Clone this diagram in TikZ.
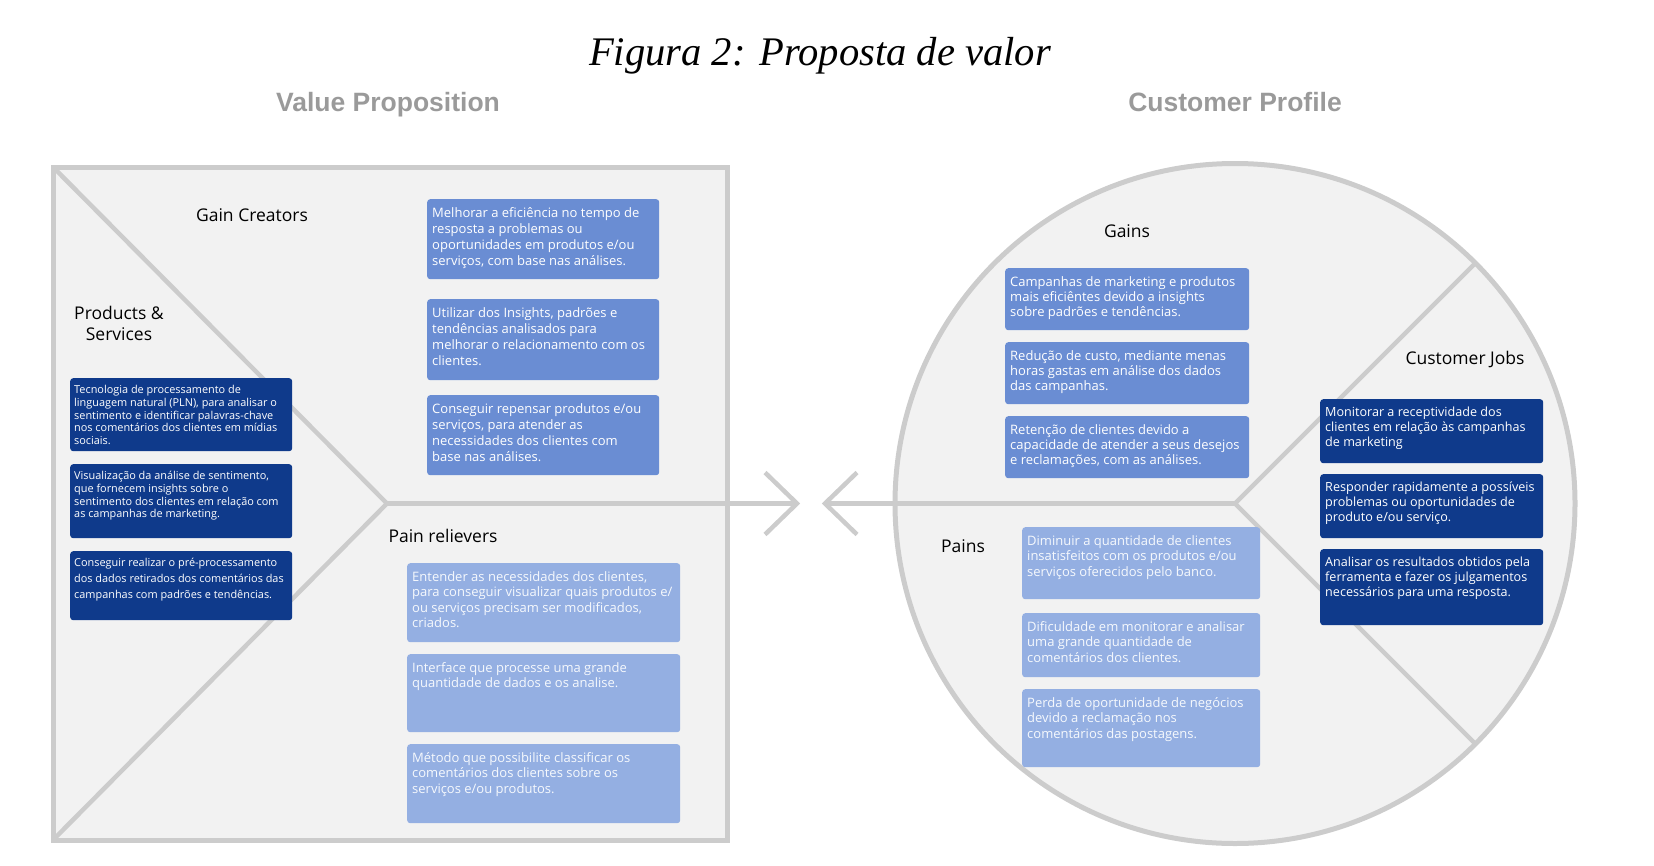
\documentclass[tikz,border=0pt]{standalone}
\usepackage{fontspec}
\setmainfont{Open Sans}
\newfontfamily\titlefont{Liberation Serif}
\newfontfamily\headfont{Liberation Sans}
\usepackage{tikz}
\definecolor{panelfill}{HTML}{F2F2F2}
\definecolor{panelline}{HTML}{CCCCCC}
\definecolor{navyblue}{HTML}{0F3A8B}
\definecolor{midblue}{HTML}{6A8DD3}
\definecolor{lightblue}{HTML}{94AFE2}
\definecolor{headgray}{HTML}{9A9A9A}
\newcommand{\cardtext}[3]{\parbox[t][#2][t]{#1}{\raggedright\rule{0pt}{1.1em}#3}}
\tikzset{
    panel/.style = {
        draw=panelline,
        fill=panelfill,
        line width=5pt,
        inner sep=0pt,
        outer sep=0pt
    },
    divider/.style = {
        draw=panelline,
        line width=4.5pt
    },
    card/.style = {
        anchor=north west,
        rectangle,
        rounded corners=3pt,
        inner xsep=5pt,
        inner ysep=3.5pt,
        text=white
    },
    navycard/.style = {
        card,
        fill=navyblue,
        inner xsep=4pt,
        font=\fontsize{10.9}{12.7}\selectfont
    },
    midcard/.style = {
        card,
        fill=midblue,
        font=\fontsize{13}{16}\selectfont
    },
    lightcard/.style = {
        card,
        fill=lightblue,
        text=white!92!lightblue,
        font=\fontsize{13}{15.6}\selectfont
    },
    sectionlabel/.style = {
        anchor=base,
        inner sep=0pt,
        align=center,
        font=\fontsize{17.5}{21}\selectfont
    },
    header/.style = {
        anchor=base,
        inner sep=0pt,
        text=headgray,
        font=\headfont\bfseries\fontsize{26.5}{30}\selectfont
    },
    titletext/.style = {
        anchor=base,
        inner sep=0pt,
        font=\titlefont\itshape\fontsize{40.6}{48}\selectfont
    }
}

\begin{document}
\begin{tikzpicture}[x=1pt, y=-1pt]
    \useasboundingbox (0,0) rectangle (1654,865);

    \node [titletext] (title) at (820,65) {Figura 2: Proposta de valor};
    \node [header] (vphead) at (388,111) {Value Proposition};
    \node [header] (cphead) at (1235,111) {Customer Profile};

    % value proposition square
    \node [panel, minimum width=674pt, minimum height=673pt] (vp) at (390,503.5) {};
    \coordinate (vphub) at (387,503.5);
    \coordinate (vptip) at (797,503.5);
    \draw [divider] (vp.north west) -- (vphub) -- (vp.south west);
    \draw [divider] (vphub) -- (vptip);
    \draw [divider] ([shift={(-32,-31)}]vptip) -- (vptip) -- ([shift={(-32,31)}]vptip);

    % customer profile circle
    \node [panel, circle, minimum size=680pt] (cp) at (1235,503.5) {};
    \coordinate (cptip) at (825,503.5);
    \draw [divider] (cp.45) -- (cp.center) -- (cp.-45);
    \draw [divider] (cp.center) -- (cptip);
    \draw [divider] ([shift={(32,-31)}]cptip) -- (cptip) -- ([shift={(32,31)}]cptip);

    % section labels
    \node [sectionlabel] (gclabel) at (252,221) {Gain Creators};
    \node [sectionlabel, anchor=center] (pslabel) at (119,323) {Products \&\\Services};
    \node [sectionlabel] (prlabel) at (443,542) {Pain relievers};
    \node [sectionlabel] (gnlabel) at (1127,237) {Gains};
    \node [sectionlabel] (cjlabel) at (1465,364) {Customer Jobs};
    \node [sectionlabel] (pnlabel) at (963,552) {Pains};

    % products & services
    \node [navycard] (ps1) at (70,378) {\cardtext{214pt}{66pt}{Tecnologia de processamento de\\
        linguagem natural (PLN), para analisar o\\
        sentimento e identificar palavras-chave\\
        nos comentários dos clientes em mídias\\
        sociais.}};
    \node [navycard] (ps2) at (70,464) {\cardtext{214pt}{67pt}{Visualização da análise de sentimento,\\
        que fornecem insights sobre o\\
        sentimento dos clientes em relação com\\
        as campanhas de marketing.}};
    \node [navycard, font=\fontsize{10.9}{16}\selectfont] (ps3) at (70,551) {\cardtext{214pt}{62pt}{Conseguir realizar o pré-processamento\\
        dos dados retirados dos comentários das\\
        campanhas com padrões e tendências.}};

    % gain creators
    \node [midcard] (gc1) at (427,199) {\cardtext{222pt}{73pt}{Melhorar a eficiência no tempo de\\
        resposta a problemas ou\\
        oportunidades em produtos e/ou\\
        serviços, com base nas análises.}};
    \node [midcard] (gc2) at (427,299) {\cardtext{222pt}{74pt}{Utilizar dos Insights, padrões e\\
        tendências analisados para\\
        melhorar o relacionamento com os\\
        clientes.}};
    \node [midcard] (gc3) at (427,395) {\cardtext{222pt}{73pt}{Conseguir repensar produtos e/ou\\
        serviços, para atender as\\
        necessidades dos clientes com\\
        base nas análises.}};

    % pain relievers
    \node [lightcard] (pr1) at (407,563) {\cardtext{263pt}{72pt}{Entender as necessidades dos clientes,\\
        para conseguir visualizar quais produtos e/\\
        ou serviços precisam ser modificados,\\
        criados.}};
    \node [lightcard] (pr2) at (407,654) {\cardtext{263pt}{71pt}{Interface que processe uma grande\\
        quantidade de dados e os analise.}};
    \node [lightcard] (pr3) at (407,744) {\cardtext{263pt}{72pt}{Método que possibilite classificar os\\
        comentários dos clientes sobre os\\
        serviços e/ou produtos.}};

    % gains
    \node [midcard, font=\fontsize{13}{15}\selectfont] (gn1) at (1005,268) {\cardtext{234pt}{55pt}{Campanhas de marketing e produtos\\
        mais eficiêntes devido a insights\\
        sobre padrões e tendências.}};
    \node [midcard, font=\fontsize{13}{15}\selectfont] (gn2) at (1005,342) {\cardtext{234pt}{55pt}{Redução de custo, mediante menas\\
        horas gastas em análise dos dados\\
        das campanhas.}};
    \node [midcard, font=\fontsize{13}{15}\selectfont] (gn3) at (1005,416) {\cardtext{234pt}{55pt}{Retenção de clientes devido a\\
        capacidade de atender a seus desejos\\
        e reclamações, com as análises.}};

    % customer jobs
    \node [navycard, inner xsep=5pt, font=\fontsize{12.6}{15}\selectfont] (cj1) at (1320,399) {\cardtext{213pt}{57pt}{Monitorar a receptividade dos\\
        clientes em relação às campanhas\\
        de marketing}};
    \node [navycard, inner xsep=5pt, font=\fontsize{12.6}{15}\selectfont] (cj2) at (1320,474) {\cardtext{213pt}{57pt}{Responder rapidamente a possíveis\\
        problemas ou oportunidades de\\
        produto e/ou serviço.}};
    \node [navycard, inner xsep=5pt, font=\fontsize{12.6}{15}\selectfont] (cj3) at (1320,549) {\cardtext{213pt}{69pt}{Analisar os resultados obtidos pela\\
        ferramenta e fazer os julgamentos\\
        necessários para uma resposta.}};

    % pains
    \node [lightcard, font=\fontsize{13}{15.5}\selectfont] (pn1) at (1022,527) {\cardtext{228pt}{65pt}{Diminuir a quantidade de clientes\\
        insatisfeitos com os produtos e/ou\\
        serviços oferecidos pelo banco.}};
    \node [lightcard, font=\fontsize{13}{15.5}\selectfont] (pn2) at (1022,613) {\cardtext{228pt}{57pt}{Dificuldade em monitorar e analisar\\
        uma grande quantidade de\\
        comentários dos clientes.}};
    \node [lightcard, font=\fontsize{13}{15.5}\selectfont] (pn3) at (1022,689) {\cardtext{228pt}{71pt}{Perda de oportunidade de negócios\\
        devido a reclamação nos\\
        comentários das postagens.}};
\end{tikzpicture}
\end{document}
